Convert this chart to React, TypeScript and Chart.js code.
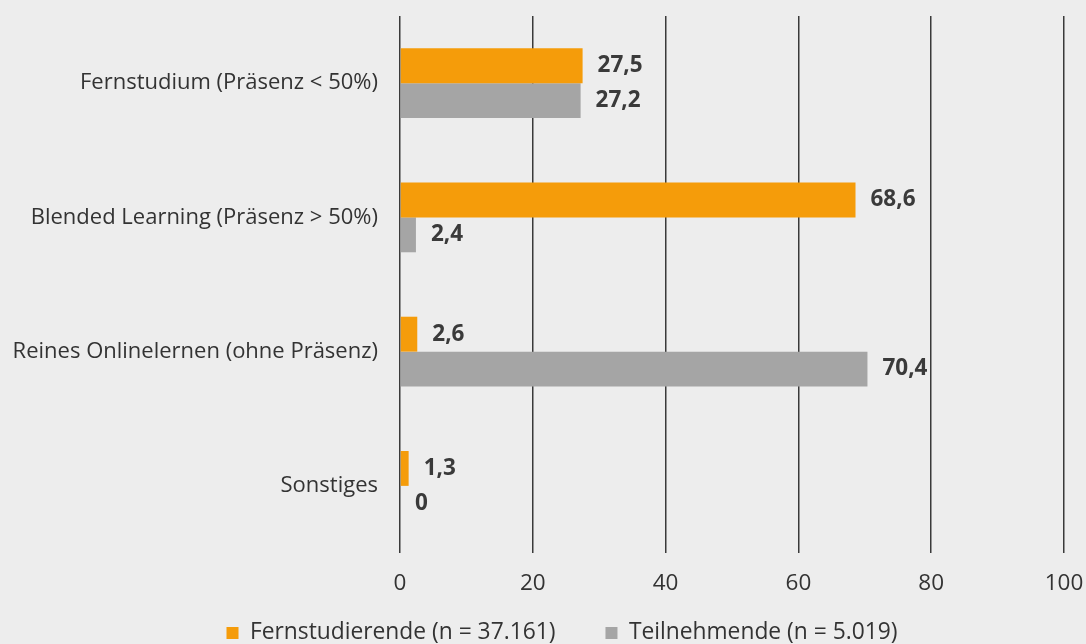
import React, { useEffect, useRef } from "react";
import { Chart, registerables } from "chart.js";

Chart.register(...registerables);

const categories = [
  "Fernstudium (Präsenz < 50%)",
  "Blended Learning (Präsenz > 50%)",
  "Reines Onlinelernen (ohne Präsenz)",
  "Sonstiges",
];
const fernstudierende = [27.5, 68.6, 2.6, 1.3];
const teilnehmende = [27.2, 2.4, 70.4, 0];
const seriesLabels = ["Fernstudierende (n = 37.161)", "Teilnehmende (n = 5.019)"];
const xTicks = [0, 20, 40, 60, 80, 100];

const FONT = "'Open Sans', sans-serif";
const TEXT = "#333333";
const LEGEND_SIZE = 22.8;
const LEGEND_PAD = 50;
const LEGEND_H = 40;

const valueLabels = {
  id: "valueLabels",
  afterDatasetsDraw(chart: any) {
    const ctx = chart.ctx;
    ctx.save();
    ctx.font = `bold 22.5px ${FONT}`;
    ctx.fillStyle = "#3a3a3a";
    ctx.textAlign = "left";
    ctx.textBaseline = "middle";
    chart.data.datasets.forEach((ds: any, i: number) => {
      const meta = chart.getDatasetMeta(i);
      meta.data.forEach((el: any, j: number) => {
        const v = ds.data[j];
        const txt = String(v).replace(".", ",");
        ctx.fillText(txt, el.x + 15, el.y);
      });
    });
    ctx.restore();
  },
};

const legendTweak = {
  id: "legendTweak",
  beforeLayout(chart: any) {
    const lg = chart.legend;
    if (lg && !lg._patched) {
      const orig = lg.fit.bind(lg);
      lg.fit = function () {
        orig();
        this.height = LEGEND_H;
      };
      lg._patched = true;
    }
  },
  afterLayout(chart: any) {
    const lg = chart.legend;
    if (lg) {
      const top = 633 - LEGEND_PAD - LEGEND_SIZE / 2;
      lg.top = top;
      lg.bottom = top + 300;
      lg.left = 30;
      lg.right = 1094;
    }
  },
};

export default function App() {
  const ref = useRef<HTMLCanvasElement>(null);
  useEffect(() => {
    document.body.style.margin = "0";
    document.body.style.background = "#ededed";
    const chart = new Chart(ref.current as HTMLCanvasElement, {
      type: "bar",
      data: {
        labels: categories,
        datasets: [
          {
            label: seriesLabels[0],
            data: fernstudierende,
            backgroundColor: "#f59c0a",
            categoryPercentage: 0.52,
            barPercentage: 1,
          },
          {
            label: seriesLabels[1],
            data: teilnehmende,
            backgroundColor: "#a5a5a5",
            categoryPercentage: 0.52,
            barPercentage: 1,
          },
        ],
      },
      options: {
        indexAxis: "y",
        responsive: false,
        animation: false,
        layout: { padding: { top: 16, right: 22, left: 0, bottom: 0 } },
        scales: {
          x: {
            min: 0,
            max: 100,
            afterBuildTicks: (axis: any) => {
              axis.ticks = xTicks.map((v) => ({ value: v }));
            },
            afterFit: (axis: any) => {
              axis.height = 644 - 553 - LEGEND_H;
              axis.paddingLeft = 0;
              axis.paddingRight = 0;
            },
            grid: { color: "#3a3a3a", lineWidth: 1.5, drawTicks: false },
            border: { display: false },
            ticks: {
              color: TEXT,
              font: { family: FONT, size: 22.5 },
              padding: 17,
            },
          },
          y: {
            afterFit: (axis: any) => {
              axis.width = 400;
              axis.paddingTop = 0;
              axis.paddingBottom = 0;
            },
            grid: { display: false, drawTicks: false },
            border: { display: false },
            ticks: {
              color: TEXT,
              font: { family: FONT, size: 22 },
              padding: 22,
            },
          },
        },
        plugins: {
          legend: {
            position: "bottom",
            labels: {
              color: TEXT,
              font: { family: FONT, size: LEGEND_SIZE },
              boxWidth: 12,
              boxHeight: 12,
              padding: LEGEND_PAD,
            },
          },
          tooltip: { enabled: false },
        },
      },
      plugins: [valueLabels, legendTweak],
    } as any);
    return () => chart.destroy();
  }, []);
  return (
    <div style={{ width: 1086, height: 644, background: "#ededed" }}>
      <canvas ref={ref} width={1086} height={644} style={{ display: "block" }} />
    </div>
  );
}
